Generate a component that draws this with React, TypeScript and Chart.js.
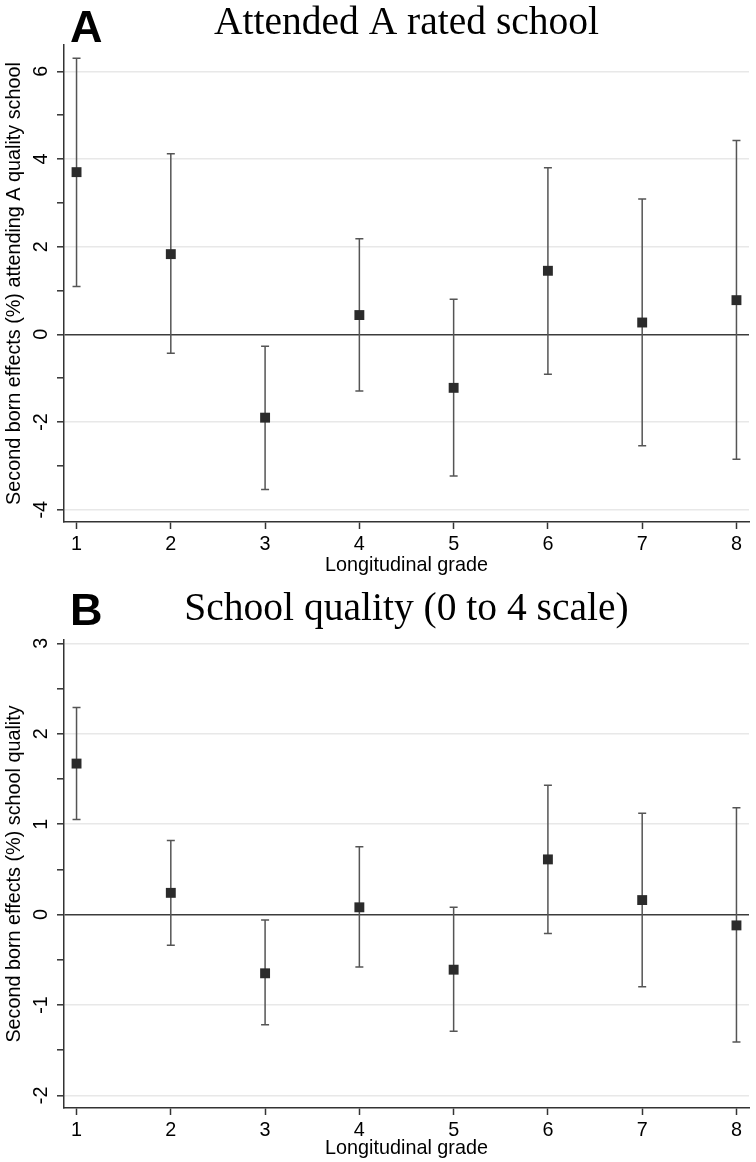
import React, { useEffect, useRef } from "react";
import { Chart, registerables } from "chart.js";

Chart.register(...registerables);

// ---------- data ----------
const grades = [1, 2, 3, 4, 5, 6, 7, 8];

const aEstimate = [3.7, 1.83, -1.9, 0.44, -1.22, 1.45, 0.27, 0.78];
const aLower = [1.09, -0.43, -3.54, -1.29, -3.23, -0.91, -2.54, -2.85];
const aUpper = [6.3, 4.12, -0.27, 2.18, 0.8, 3.8, 3.09, 4.42];

const bEstimate = [1.67, 0.24, -0.65, 0.08, -0.61, 0.61, 0.16, -0.12];
const bLower = [1.05, -0.34, -1.22, -0.58, -1.29, -0.21, -0.8, -1.41];
const bUpper = [2.29, 0.82, -0.06, 0.75, 0.08, 1.43, 1.12, 1.18];

const aTicks = [-4, -3, -2, -1, 0, 1, 2, 3, 4, 5, 6];
const aTickLabels = [-4, -2, 0, 2, 4, 6];
const bTicks = [-2, -1.5, -1, -0.5, 0, 0.5, 1, 1.5, 2, 2.5, 3];
const bTickLabels = [-2, -1, 0, 1, 2, 3];

const aLetter = "A";
const aTitle = "Attended A rated school";
const aYTitle = "Second born effects (%) attending A quality school";
const bLetter = "B";
const bTitle = "School quality (0 to 4 scale)";
const bYTitle = "Second born effects (%) school quality";
const xTitle = "Longitudinal grade";

const SANS = '"Liberation Sans", Arial, Helvetica, sans-serif';
const SERIF = '"Liberation Serif", "Times New Roman", serif';

const errorBarPlugin = {
  id: "errorBars",
  beforeDatasetsDraw(chart: any, _args: any, opts: any) {
    const { ctx } = chart;
    const x = chart.scales.x;
    const y = chart.scales.y;
    ctx.save();
    ctx.strokeStyle = opts.color;
    ctx.lineWidth = opts.width;
    for (let i = 0; i < opts.xs.length; i++) {
      const px = x.getPixelForValue(opts.xs[i]);
      const pl = y.getPixelForValue(opts.lo[i]);
      const ph = y.getPixelForValue(opts.hi[i]);
      const c = opts.cap;
      ctx.beginPath();
      ctx.moveTo(px, pl);
      ctx.lineTo(px, ph);
      ctx.moveTo(px - c, pl);
      ctx.lineTo(px + c, pl);
      ctx.moveTo(px - c, ph);
      ctx.lineTo(px + c, ph);
      ctx.stroke();
    }
    ctx.restore();
  },
};

const headerPlugin = {
  id: "panelHeader",
  afterDraw(chart: any, _args: any, opts: any) {
    const { ctx, chartArea } = chart;
    ctx.save();
    ctx.fillStyle = "#000";
    ctx.textBaseline = "alphabetic";
    ctx.textAlign = "left";
    ctx.font = `bold 45px ${SANS}`;
    ctx.fillText(opts.letter, opts.letterX, opts.letterBaseline);
    ctx.textAlign = "center";
    ctx.font = `39.5px ${SERIF}`;
    ctx.fillText(opts.title, (chartArea.left + chartArea.right) / 2, opts.titleBaseline);
    ctx.restore();
  },
};

type PanelProps = {
  top: number;
  height: number;
  letter: string;
  title: string;
  yTitle: string;
  est: number[];
  lo: number[];
  hi: number[];
  yTicks: number[];
  yLabels: number[];
  yMin: number;
  yMax: number;
  padTop: number;
  xAxisHeight: number;
  xTitlePad: number;
  letterBaseline: number;
  titleBaseline: number;
};

function Panel(p: PanelProps) {
  const ref = useRef<HTMLCanvasElement>(null);
  useEffect(() => {
    if (!ref.current) return;
    const font = { family: SANS, size: 19.8 };
    const chart = new Chart(ref.current, {
      type: "scatter",
      data: {
        datasets: [
          {
            data: grades.map((g, i) => ({ x: g, y: p.est[i] })),
            pointStyle: "rect",
            pointRadius: 7,
            pointHoverRadius: 7,
            backgroundColor: "#2b2b2b",
            borderColor: "#2b2b2b",
            borderWidth: 0,
          },
        ],
      },
      options: {
        responsive: false,
        animation: false,
        events: [],
        layout: { padding: { top: p.padTop, left: 0, right: 0, bottom: 0 } },
        plugins: {
          legend: { display: false },
          tooltip: { enabled: false },
          errorBars: { xs: grades, lo: p.lo, hi: p.hi, color: "#555", width: 1.5, cap: 4 },
          panelHeader: {
            letter: p.letter,
            title: p.title,
            letterX: 70,
            letterBaseline: p.letterBaseline,
            titleBaseline: p.titleBaseline,
          },
        } as any,
        scales: {
          x: {
            type: "linear",
            min: 0.867,
            max: 8.133,
            afterBuildTicks: (s: any) => {
              s.ticks = grades.map((v) => ({ value: v }));
            },
            afterFit: (s: any) => {
              s.height = p.xAxisHeight;
            },
            grid: {
              color: "transparent",
              tickColor: "#333",
              tickLength: 7,
              tickWidth: 1.5,
            },
            border: { color: "#333", width: 1.5 },
            ticks: {
              color: "#000",
              font,
              padding: 4,
              autoSkip: false,
              maxRotation: 0,
              callback: (v: any) => String(v),
            },
            title: {
              display: true,
              text: xTitle,
              color: "#000",
              font,
              padding: { top: 0, bottom: p.xTitlePad },
            },
          },
          y: {
            type: "linear",
            min: p.yMin,
            max: p.yMax,
            afterBuildTicks: (s: any) => {
              s.ticks = p.yTicks.map((v) => ({ value: v }));
            },
            afterFit: (s: any) => {
              s.width = 64;
            },
            grid: {
              color: (c: any) =>
                c.tick && c.tick.value === 0
                  ? "#3c3c3c"
                  : c.tick && p.yLabels.includes(c.tick.value)
                  ? "#e8e8e8"
                  : "transparent",
              lineWidth: 1.6,
              tickColor: "#333",
              tickLength: 7,
              tickWidth: 1.5,
            },
            border: { color: "#333", width: 1.5 },
            ticks: {
              color: "#000",
              font,
              padding: 7,
              autoSkip: false,
              minRotation: 90,
              maxRotation: 90,
              crossAlign: "center",
              callback: (v: any) => (p.yLabels.includes(Number(v)) ? String(v) : ""),
            },
            title: {
              display: true,
              text: p.yTitle,
              color: "#000",
              font,
              padding: { top: 3, bottom: 0 },
            },
          },
        },
      },
      plugins: [errorBarPlugin, headerPlugin],
    } as any);
    return () => chart.destroy();
  }, []);
  return (
    <canvas
      ref={ref}
      width={756}
      height={p.height}
      style={{ position: "absolute", left: 0, top: p.top, width: 756, height: p.height, display: "block" }}
    />
  );
}

export default function App() {
  return (
    <div style={{ position: "absolute", left: 0, top: 0, width: 756, height: 1162, background: "#fff", overflow: "hidden" }}>
      <Panel
        top={0}
        height={586}
        letter={aLetter}
        title={aTitle}
        yTitle={aYTitle}
        est={aEstimate}
        lo={aLower}
        hi={aUpper}
        yTicks={aTicks}
        yLabels={aTickLabels}
        yMin={-4.28}
        yMax={6.6}
        padTop={45}
        xAxisHeight={64}
        xTitlePad={9}
        letterBaseline={42}
        titleBaseline={34}
      />
      <Panel
        top={586}
        height={576}
        letter={bLetter}
        title={bTitle}
        yTitle={bYTitle}
        est={bEstimate}
        lo={bLower}
        hi={bUpper}
        yTicks={bTicks}
        yLabels={bTickLabels}
        yMin={-2.14}
        yMax={3.037}
        padTop={54}
        xAxisHeight={54}
        xTitlePad={2}
        letterBaseline={39}
        titleBaseline={34}
      />
    </div>
  );
}
